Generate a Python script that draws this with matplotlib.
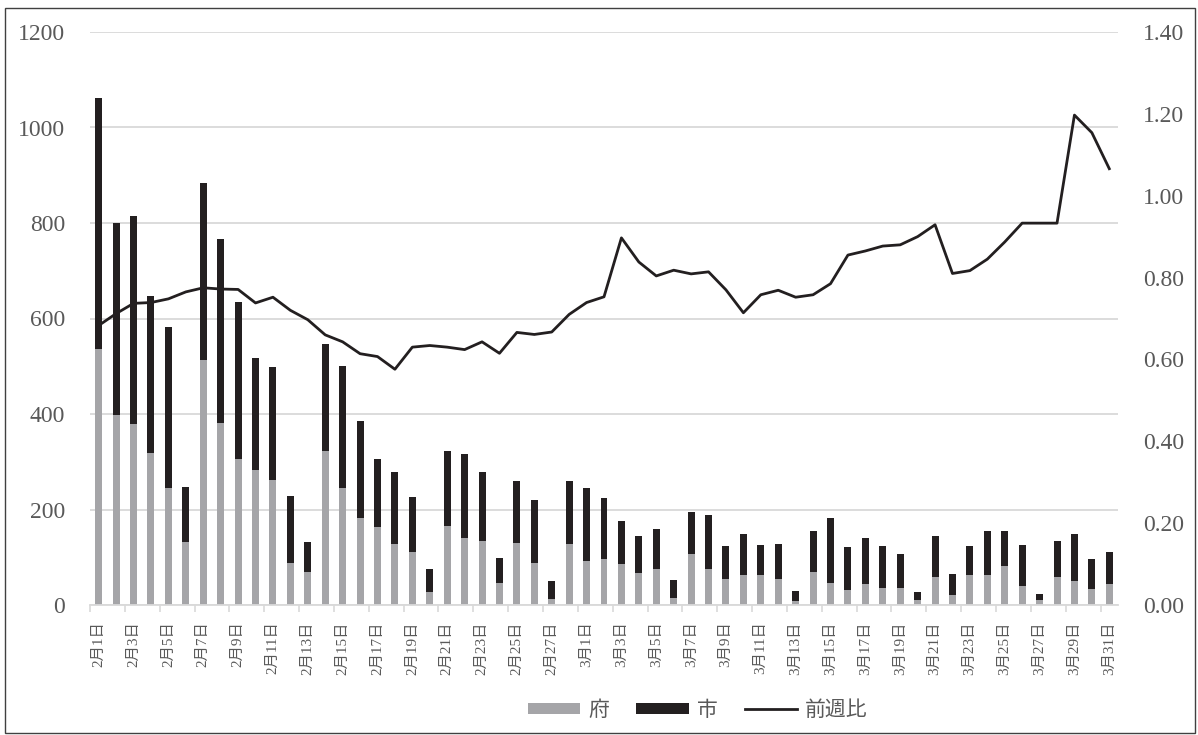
#! /usr/bin/python
## Daily cases (府 / 市) stacked bars with week-over-week ratio line

import numpy
import matplotlib
matplotlib.use('Agg')
import matplotlib.pyplot as plt
from matplotlib.patches import Patch, Rectangle
from matplotlib.lines import Line2D

plt.rcParams['font.family'] = ['Liberation Serif', 'Noto Sans CJK JP']

# dates: 2月1日 .. 3月31日
days = ['2月%d日' % d for d in range(1, 29)] + ['3月%d日' % d for d in range(1, 32)]

# 府 (gray, lower part)
fu = [537, 398, 380, 319, 245, 132, 513, 381, 306, 283,
      262, 89, 70, 323, 245, 182, 164, 128, 111, 27,
      166, 141, 134, 46, 130, 88, 13, 128, 92, 97,
      86, 67, 76, 15, 107, 76, 55, 63, 63, 55,
      8, 69, 47, 31, 43, 35, 35, 10, 58, 20,
      62, 62, 81, 39, 10, 58, 50, 33, 43]

# 府 + 市 (bar top)
total = [1062, 800, 814, 647, 582, 247, 884, 766, 634, 517,
         499, 228, 132, 546, 501, 386, 306, 279, 227, 76,
         323, 317, 279, 99, 260, 220, 50, 260, 244, 225,
         176, 145, 160, 53, 195, 189, 124, 149, 126, 128,
         29, 154, 182, 121, 140, 123, 106, 27, 144, 64,
         123, 156, 156, 125, 24, 135, 148, 96, 110]

# 前週比 (right axis)
ratio = [0.683, 0.712, 0.737, 0.739, 0.748, 0.765, 0.775, 0.772, 0.771, 0.738,
         0.752, 0.720, 0.697, 0.660, 0.643, 0.614, 0.607, 0.576, 0.630, 0.634,
         0.630, 0.624, 0.643, 0.615, 0.666, 0.661, 0.667, 0.710, 0.739, 0.753,
         0.897, 0.838, 0.804, 0.818, 0.809, 0.814, 0.770, 0.714, 0.758, 0.769,
         0.752, 0.758, 0.785, 0.855, 0.865, 0.877, 0.880, 0.900, 0.929, 0.810,
         0.817, 0.845, 0.887, 0.933, 0.933, 0.933, 1.197, 1.154, 1.066]

shi = [t - f for t, f in zip(total, fu)]

GRAY = '#a5a5a8'
DARK = '#231f20'
TXT = '#595959'
GRID = '#d9d9d9'

fig = plt.figure(figsize=(11.98, 7.35), dpi=100, facecolor='white')
ax = fig.add_axes([90 / 1198., 130 / 735., 1028 / 1198., 573 / 735.])
ax2 = ax.twinx()

x = numpy.arange(len(days))
ax.bar(x, fu, width=0.4, color=GRAY, zorder=2)
ax.bar(x, shi, width=0.4, bottom=fu, color=DARK, zorder=2)
ax2.plot(x, ratio, color=DARK, lw=2.0, zorder=3)

# left axis
ax.set_xlim(-0.5, len(days) - 0.5)
ax.set_ylim(0, 1200)
ax.set_yticks(numpy.arange(0, 1201, 200))
ax.yaxis.grid(True, color=GRID, lw=1.3, zorder=0)
ax.set_axisbelow(True)
ax.tick_params(axis='y', length=0, pad=18, labelsize=17, labelcolor=TXT)

# right axis
ax2.set_ylim(0, 1.4)
ax2.set_yticks(numpy.arange(0, 1.41, 0.2))
ax2.set_yticklabels(['%.2f' % v for v in numpy.arange(0, 1.41, 0.2)])
ax2.tick_params(axis='y', length=0, pad=18, labelsize=17, labelcolor=TXT)

for a in (ax, ax2):
    for s in ('top', 'left', 'right'):
        a.spines[s].set_visible(False)
ax.spines['bottom'].set_color(GRID)
ax.spines['bottom'].set_linewidth(1.3)
ax2.spines['bottom'].set_visible(False)

# x axis: tick marks every 2 categories, labels on every other day
ax.set_xticks(numpy.arange(-0.5, len(days) - 1, 2))
ax.set_xticklabels([])
ax.tick_params(axis='x', which='major', length=5, width=1.2, color=GRID)
ax.set_xticks(x[::2], minor=True)
ax.set_xticklabels(days[::2], minor=True, rotation=90, fontsize=11, color=TXT)
ax.tick_params(axis='x', which='minor', length=0, pad=12)

# legend
handles = [Patch(facecolor=GRAY, edgecolor='none', label='府'),
           Patch(facecolor=DARK, edgecolor='none', label='市'),
           Line2D([], [], color=DARK, lw=2.0, label='前週比')]
leg = fig.legend(handles=handles, loc='center', bbox_to_anchor=(698 / 1198., 24 / 735.),
                 ncol=3, frameon=False, fontsize=15, handlelength=2.5,
                 handleheight=0.4, columnspacing=1.3, handletextpad=0.4)
for t in leg.get_texts():
    t.set_color(TXT)

# chart border
fig.patches.append(Rectangle((5 / 1198., 2 / 735.), 1190 / 1198., 725 / 735.,
                             transform=fig.transFigure, fill=False,
                             edgecolor='#404040', lw=1.0))

fig.savefig('out.png', dpi=100)
